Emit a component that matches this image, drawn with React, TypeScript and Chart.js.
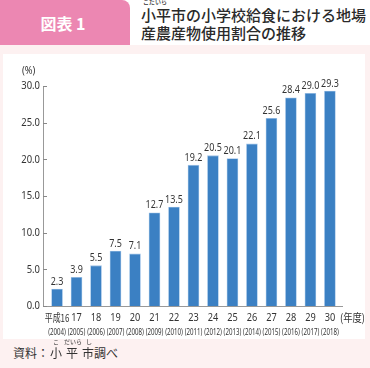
import React, { useEffect, useRef } from "react";
import { Chart, registerables } from "chart.js";

Chart.register(...registerables);

const categories = ["平成16", "17", "18", "19", "20", "21", "22", "23", "24", "25", "26", "27", "28", "29", "30"];
const years = ["(2004)", "(2005)", "(2006)", "(2007)", "(2008)", "(2009)", "(2010)", "(2011)", "(2012)", "(2013)", "(2014)", "(2015)", "(2016)", "(2017)", "(2018)"];
const values = [2.3, 3.9, 5.5, 7.5, 7.1, 12.7, 13.5, 19.2, 20.5, 20.1, 22.1, 25.6, 28.4, 29.0, 29.3];
const yTicks = [0, 5, 10, 15, 20, 25, 30];

const NUM = "'Noto Sans', 'Noto Sans CJK JP', sans-serif";
const CJK = "'Noto Sans CJK JP', sans-serif";

function squeezeText(ctx: any, text: string, x: number, y: number, sx: number) {
  ctx.save();
  ctx.translate(x, y);
  ctx.scale(sx, 1);
  ctx.fillText(text, 0, 0);
  ctx.restore();
}

const labelPlugin = {
  id: "customLabels",
  afterDatasetsDraw(chart: any) {
    const ctx = chart.ctx;
    const meta = chart.getDatasetMeta(0);
    const xs = chart.scales.x;
    const ys = chart.scales.y;
    const area = chart.chartArea;
    ctx.save();
    ctx.fillStyle = "#333";
    // value labels
    ctx.font = `11.5px ${NUM}`;
    ctx.textAlign = "center";
    ctx.textBaseline = "bottom";
    meta.data.forEach((bar: any, i: number) => {
      squeezeText(ctx, values[i].toFixed(1), bar.x, bar.y - 2, 0.78);
    });
    // x labels
    ctx.textBaseline = "middle";
    categories.forEach((c, i) => {
      const px = xs.getPixelForValue(i);
      ctx.font = i === 0 ? `11px ${CJK}` : `11.5px ${NUM}`;
      squeezeText(ctx, c, px, area.bottom + 12, i === 0 ? 0.72 : 0.8);
      ctx.font = `8.5px ${NUM}`;
      squeezeText(ctx, years[i], px, area.bottom + 27, 0.72);
    });
    // y labels
    ctx.textAlign = "right";
    ctx.font = `11.5px ${NUM}`;
    yTicks.forEach((v) => {
      squeezeText(ctx, v.toFixed(1), area.left - 3, ys.getPixelForValue(v), 0.82);
    });
    // inward y ticks
    ctx.strokeStyle = "#888";
    ctx.lineWidth = 1;
    yTicks.forEach((v) => {
      const py = Math.round(ys.getPixelForValue(v)) + 0.5;
      ctx.beginPath();
      ctx.moveTo(area.left, py);
      ctx.lineTo(area.left + 4, py);
      ctx.stroke();
    });
    ctx.restore();
  },
};

export default function App() {
  const ref = useRef<HTMLCanvasElement>(null);
  useEffect(() => {
    document.body.style.margin = "0";
    const chart = new Chart(ref.current!, {
      type: "bar",
      data: {
        datasets: [
          {
            data: values.map((v, i) => ({ x: i, y: v })),
            backgroundColor: "#3b80c3",
            borderColor: "#9fc2e6",
            borderWidth: 0.8,
            barThickness: 11,
          },
        ],
      },
      options: {
        animation: false,
        responsive: false,
        layout: { padding: { top: 32, right: 28, left: 0, bottom: 0 } },
        plugins: { legend: { display: false }, tooltip: { enabled: false } },
        scales: {
          x: {
            type: "linear",
            position: "bottom",
            min: -0.72,
            max: 14.62,
            offset: false,
            grid: { display: false },
            border: { display: true, color: "#999", width: 1 },
            ticks: { display: false },
            afterFit: (s: any) => { s.height = 34; },
          },
          y: {
            min: 0,
            max: 30,
            grid: { display: false },
            border: { display: true, color: "#999", width: 1 },
            ticks: { display: false, stepSize: 5 },
            afterFit: (s: any) => { s.width = 43; },
          },
        },
      },
      plugins: [labelPlugin],
    });
    return () => chart.destroy();
  }, []);

  return (
    <div style={{ position: "fixed", left: 0, top: 0, width: 370, height: 368, background: "#fdf1f1", overflow: "hidden", fontFamily: CJK }}>
      <div style={{ position: "absolute", left: 0, top: 0, width: 370, height: 45, background: "#fff" }} />
      <div style={{ position: "absolute", left: 0, top: 0, width: 130, height: 45, background: "#ec87b2", borderTopRightRadius: 8, color: "#fff", fontWeight: 700, fontSize: 16, display: "flex", alignItems: "center", justifyContent: "center", paddingRight: 4, boxSizing: "border-box" }}>
        図表 1
      </div>
      <div style={{ position: "absolute", left: 141, top: 2, fontSize: 15, lineHeight: "18px", color: "#2a2a2a", fontWeight: 500, whiteSpace: "nowrap" }}>
        <div style={{ position: "relative" }}>
          <span style={{ position: "absolute", left: 2, top: -3, fontSize: 6, lineHeight: "6px" }}>こだいら</span>
          <div style={{ paddingTop: 4 }}>小平市の小学校給食における地場</div>
        </div>
        <div>産農産物使用割合の推移</div>
      </div>
      <div style={{ position: "absolute", left: 3, top: 54, width: 362, height: 285, background: "#fff" }} />
      <canvas ref={ref} width={370} height={286} style={{ position: "absolute", left: 0, top: 54, width: 370, height: 286 }} />
      <div style={{ position: "absolute", left: 22, top: 63, fontSize: 11, lineHeight: "13px", color: "#333", fontFamily: NUM, transform: "scaleX(0.85)", transformOrigin: "left" }}>(%)</div>
      <div style={{ position: "absolute", left: 340, top: 311, fontSize: 11, lineHeight: "13px", color: "#333", fontFamily: CJK, transform: "scaleX(0.85)", transformOrigin: "left", whiteSpace: "nowrap" }}>(年度)</div>
      <div style={{ position: "absolute", left: 13, top: 345, fontSize: 12, lineHeight: "16px", color: "#333", whiteSpace: "nowrap" }}>
        資料：
        <span style={{ position: "relative", marginLeft: 1, marginRight: 4 }}>小<span style={{ position: "absolute", left: 3, top: -5, fontSize: 6, lineHeight: "6px" }}>こ</span></span>
        <span style={{ position: "relative", marginRight: 4 }}>平<span style={{ position: "absolute", left: -2, top: -5, fontSize: 6, lineHeight: "6px", whiteSpace: "nowrap" }}>だいら</span></span>
        <span style={{ position: "relative" }}>市<span style={{ position: "absolute", left: 4, top: -5, fontSize: 6, lineHeight: "6px" }}>し</span></span>
        調べ
      </div>
    </div>
  );
}
